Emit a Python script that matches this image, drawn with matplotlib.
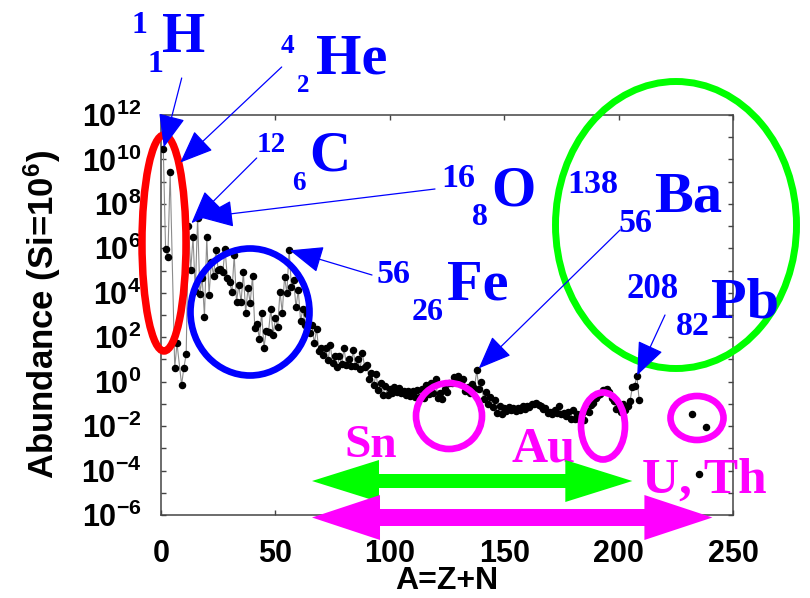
import numpy as np
import matplotlib
matplotlib.use("Agg")
import matplotlib.pyplot as plt
from matplotlib.patches import Ellipse, Polygon, ConnectionPatch

# Solar system abundance per mass number, log10 (Si = 10^6)
mass_number = [1, 2, 3, 4, 6, 7] + list(range(9, 210))
log_abundance = [
    10.45, 5.98, 5.59, 9.43, 0.63, 1.72,
    -0.14, 0.63, 1.23, 7.00, 5.04, 6.49, 4.06, 7.37, 3.95, 4.68,          # 9-18
    2.93, 6.49, 3.89, 5.40, 4.76, 5.93, 5.03, 5.07, 4.93, 5.96,           # 19-28
    4.67, 4.49, 4.02, 5.69, 3.59, 4.34, 3.60, 4.93, 3.10, 4.20,           # 29-38
    3.54, 4.77, 2.40, 2.60, 1.92, 3.10, 1.53, 2.30, 2.25, 3.28,           # 39-48
    2.11, 2.85, 2.47, 4.05, 3.11, 4.72, 3.98, 5.92, 4.28, 4.56,           # 49-58
    3.35, 4.11, 2.75, 3.25, 2.56, 3.03, 2.21, 2.55, 1.72, 2.37,           # 59-68
    1.36, 1.51, 1.18, 1.51, 0.96, 1.64, 0.82, 1.17, 0.66, 1.17,           # 69-78
    0.78, 1.50, 0.76, 1.03, 0.71, 1.41, 0.71, 1.00, 0.56, 1.29,           # 79-88
    0.67, 0.77, 0.11, 0.37, -0.16, 0.35, -0.39, -0.07, -0.61, -0.18,      # 89-98
    -0.62, -0.31, -0.50, -0.22, -0.46, -0.30, -0.51, -0.40, -0.60, -0.42,  # 99-108
    -0.63, -0.44, -0.69, -0.37, -0.69, -0.31, -0.72, -0.17, -0.54, -0.04,  # 109-118
    -0.49, 0.10, -0.75, -0.53, -0.76, -0.35, -0.47, -0.04, -0.05, 0.21,    # 119-128
    0.09, 0.26, 0.00, 0.10, -0.43, -0.22, -0.53, -0.12, -0.30, 0.51,       # 129-138
    -0.35, 0.00, -0.78, -0.45, -1.00, -0.69, -1.16, -0.84, -1.41, -1.11,   # 139-148
    -1.44, -1.18, -1.33, -1.16, -1.29, -1.18, -1.31, -1.17, -1.28, -1.08,  # 149-158
    -1.22, -1.09, -1.12, -1.00, -1.01, -0.94, -1.05, -1.08, -1.24, -1.17,  # 159-168
    -1.42, -1.35, -1.45, -1.27, -1.40, -1.10, -1.45, -1.39, -1.55, -1.38,  # 169-178
    -1.68, -1.27, -1.68, -1.46, -1.72, -1.39, -1.72, -1.31, -1.38, -1.05,  # 179-188
    -0.96, -0.75, -0.61, -0.54, -0.38, -0.36, -0.34, -0.47, -0.73, -0.89,  # 189-198
    -1.24, -1.11, -1.35, -1.00, -1.27, -1.08, -0.89, -0.23, -0.19, 0.26,   # 199-208
    -0.84,                                                                 # 209
]

# Th and U
actinide_mass = [232, 235, 238]
actinide_log = [-1.47, -4.17, -2.03]

x_ticks = [0, 50, 100, 150, 200, 250]
y_exponents = [-6, -4, -2, 0, 2, 4, 6, 8, 10, 12]
y_labels = [r'$\mathbf{10^{%d}}$' % e for e in y_exponents]

W, H = 810, 598

plt.rcParams['font.family'] = ['Liberation Sans', 'DejaVu Sans']
plt.rcParams['mathtext.fontset'] = 'custom'
plt.rcParams['mathtext.rm'] = 'Liberation Sans:bold'
plt.rcParams['mathtext.bf'] = 'Liberation Sans:bold'
plt.rcParams['mathtext.it'] = 'Liberation Sans:bold:italic'


def fx(x):
    return x / W


def fy(y):
    return 1 - y / H


fig = plt.figure(figsize=(W / 100, H / 100), dpi=100)
ax = fig.add_axes([fx(161), fy(515), 572 / W, 400 / H])

abund = 10.0 ** np.array(log_abundance)
ax.plot(mass_number, abund, '-', color='#8c8c8c', lw=0.8,
        marker='o', ms=4.4, mfc='black', mec='black', zorder=3)
ax.plot(actinide_mass, 10.0 ** np.array(actinide_log), 'o', color='black',
        ms=4.4, ls='none', zorder=3)

ax.set_yscale('log')
ax.set_xlim(0, 250)
ax.set_ylim(1e-6, 1e12)
ax.set_xticks(x_ticks)
ax.set_xticklabels([str(t) for t in x_ticks], fontweight='bold')
ax.set_yticks([10.0 ** e for e in y_exponents])
ax.set_yticklabels(y_labels)
ax.set_yticks([10.0 ** e for e in range(-5, 12, 2)], minor=True)
ax.yaxis.set_minor_formatter(plt.NullFormatter())

for s in ax.spines.values():
    s.set_color('#444444')
    s.set_linewidth(1.1)
ax.tick_params(which='both', direction='in', length=3.6, width=1.0,
               color='#444444', top=True, right=True)
ax.tick_params(axis='x', labelsize=22, pad=17)
ax.tick_params(axis='y', labelsize=22, pad=14)

ax.set_xlabel('A=Z+N', fontsize=23, fontweight='bold', labelpad=0)
ax.set_ylabel(r'Abundance (Si=10$^{\mathbf{6}}$)', fontsize=25, fontweight='bold')
ax.yaxis.set_label_coords(-0.172, 0.5)
ax.xaxis.set_label_coords(0.5, -0.128)

# circled regions
def ring(cx, cy, w, h, color, lw):
    e = Ellipse((fx(cx), fy(cy)), w / W, h / H, transform=fig.transFigure,
                fill=False, edgecolor=color, lw=lw, zorder=2)
    fig.add_artist(e)

ring(164, 243, 44, 216, '#ff0000', 5.4)
ring(250, 312, 119, 127, '#0000ff', 4.8)
ring(676, 225, 241, 287, '#00ff00', 5.0)
ring(449, 416, 66, 66, '#ff00ff', 4.8)
ring(603, 426, 44, 67, '#ff00ff', 4.8)
ring(697, 418, 53, 44, '#ff00ff', 4.8)

# thin arrows pointing at isotopes
def value_at(a):
    return 10.0 ** log_abundance[mass_number.index(a)]

pointers = [
    (181.7, 78, 1, 1.5),
    (281.7, 67, 4, 10),
    (256.7, 158, 12, 3),
    (435, 189, 16, 2),
    (372, 275, 56, 0.5),
    (620, 230, 138, 2),
    (665, 315, 208, 0.5),
]
for px, py, a, shrink in pointers:
    cp = ConnectionPatch(xyA=(fx(px), fy(py)), coordsA='figure fraction',
                         xyB=(a, value_at(a)), coordsB=ax.transData,
                         arrowstyle='-|>,head_length=2.1,head_width=0.85',
                         mutation_scale=10, color='#0000ff', lw=0.9,
                         shrinkA=0, shrinkB=shrink, zorder=3)
    fig.add_artist(cp)

# isotope symbols
serif = dict(family='Liberation Serif', fontweight='bold', ha='left', va='baseline')
blue_labels = [
    ('1', 131, 33, 23), ('1', 147, 72, 23), ('H', 162, 52, 40),
    ('4', 281, 53, 19.5), ('2', 297, 92, 18), ('He', 316, 73, 42),
    ('12', 257, 152, 21), ('6', 292, 190, 19.5), ('C', 309, 171, 41),
    ('16', 441, 187, 24.5), ('8', 472, 225, 23), ('O', 491, 205, 41),
    ('138', 567, 193, 24.5), ('56', 619, 232, 24.5), ('Ba', 654, 212, 42),
    ('56', 377, 283, 24.5), ('26', 412, 320, 23), ('Fe', 447, 300, 42),
    ('208', 626, 298, 25), ('82', 676, 335, 24.5), ('Pb', 711, 317, 42),
]
for s, x, y, size in blue_labels:
    fig.text(fx(x), fy(y), s, fontsize=size, color='#0000ff', zorder=4, **serif)

magenta_labels = [('Sn', 344, 457, 34), ('Au', 512, 462, 36), ('U, Th', 642, 493, 37)]
for s, x, y, size in magenta_labels:
    fig.text(fx(x), fy(y), s, fontsize=size, color='#ff00ff', zorder=4, **serif)

# process ranges as double-headed arrows
def double_arrow(a0, a1, yc, head_len, head_half, half_t, color):
    x0 = ax.transData.transform((a0, 1.0))[0]
    x1 = ax.transData.transform((a1, 1.0))[0]
    pts = [(x0, yc), (x0 + head_len, yc - head_half), (x0 + head_len, yc - half_t),
           (x1 - head_len, yc - half_t), (x1 - head_len, yc - head_half), (x1, yc),
           (x1 - head_len, yc + head_half), (x1 - head_len, yc + half_t),
           (x0 + head_len, yc + half_t), (x0 + head_len, yc + head_half)]
    verts = [(fx(x), fy(y)) for x, y in pts]
    fig.add_artist(Polygon(verts, closed=True, transform=fig.transFigure,
                           facecolor=color, edgecolor='none', zorder=5))

double_arrow(66, 206, 481, 67, 21, 7, '#00ff00')
double_arrow(66, 241, 517.5, 68, 22.5, 8.5, '#ff00ff')

fig.savefig('out.png', dpi=100)
